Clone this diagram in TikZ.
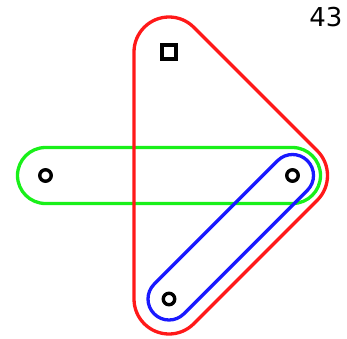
\documentclass[tikz,border=0pt]{standalone}
\usepackage{fontspec}
\setsansfont{DejaVu Sans}
\usepackage{tikz}
\usetikzlibrary{calc}
\definecolor{edgered}{RGB}{255,25,25}
\definecolor{edgegreen}{RGB}{25,240,25}
\definecolor{edgeblue}{RGB}{25,25,255}

\begin{document}
\begin{tikzpicture}[x=123.5pt, y=123.5pt,
    vert/.style={circle, draw, line width=3.4pt, minimum size=11.5pt, inner sep=0pt},
    svert/.style={rectangle, draw, line width=3.4pt, minimum size=14pt, inner sep=0pt},
    hedge/.style={line width=3.3pt}]
\useasboundingbox (-169pt,-39pt) rectangle (178pt,299pt);

\node[vert] (b) at (0,0) {};
\node[vert] (l) at (-1,1) {};
\node[vert] (r) at (1,1) {};
\node[svert] (s) at (0,2) {};

% hyperedges
\draw[hedge, edgegreen] ($(l)+(0,-28pt)$) -- ($(r)+(0,-28pt)$)
    arc[start angle=-90, end angle=90, radius=28pt] -- ($(l)+(0,28pt)$)
    arc[start angle=90, end angle=270, radius=28pt] -- cycle;
\draw[hedge, edgeblue] ($(b)+(-45:21pt)$) -- ($(r)+(-45:21pt)$)
    arc[start angle=-45, end angle=135, radius=21pt] -- ($(b)+(135:21pt)$)
    arc[start angle=135, end angle=315, radius=21pt] -- cycle;
\draw[hedge, edgered] ($(b)+(-45:35pt)$) -- ($(r)+(-45:35pt)$)
    arc[start angle=-45, end angle=45, radius=35pt] -- ($(s)+(45:35pt)$)
    arc[start angle=45, end angle=180, radius=35pt] -- ($(b)+(180:35pt)$)
    arc[start angle=180, end angle=315, radius=35pt] -- cycle;

\node[font=\sffamily\fontsize{26}{26}\selectfont] (num) at (157pt,282pt) {43};
\end{tikzpicture}
\end{document}
